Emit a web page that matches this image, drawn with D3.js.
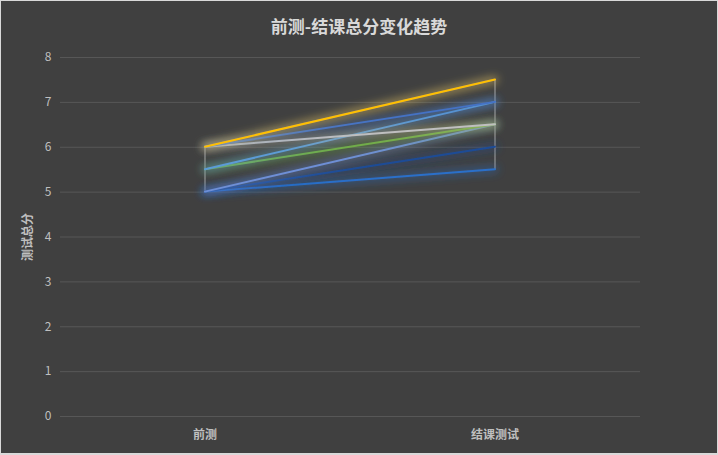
<!DOCTYPE html>
<html>
<head>
<meta charset="utf-8">
<script src="https://cdn.jsdelivr.net/npm/d3@7"></script>
<style>
  body { margin: 0; background: #d9d9d9; }
  svg { display: block; }
  text { font-family: "Noto Sans CJK SC", "Noto Sans", sans-serif; }
</style>
</head>
<body>
<svg id="chart" width="718" height="455"></svg>
<script>
const categories = ["前测", "结课测试"];
const pretest = [6, 6, 6, 5.5, 5.5, 5, 5, 5];
const finaltest = [7.5, 7, 6.5, 7, 6.5, 6.5, 6, 5.5];
const lineColors = ["#FFC000", "#4472C4", "#BFBFBF", "#5B9BD5", "#70AD47", "#6E8FD6", "#1F4C96", "#2B6FC9"];
const glowColors = ["#FFD966", "#4472C4", "#C9B98C", "#5B9BD5", "#70AD47", "#6E8FD6", "#1F4C96", "#2B6FC9"];
const yTicks = [0, 1, 2, 3, 4, 5, 6, 7, 8];

window.onload = () => {
    let svg = d3.select("#chart");

    // frame
    svg.append("rect")
    .attr("x", 1).attr("y", 1)
    .attr("width", 716).attr("height", 452)
    .attr("fill", "#404040");

    let x = d3.scaleBand().domain(categories).range([60, 640]);
    let y = d3.scaleLinear().domain([0, 8]).range([416, 57]);

    let defs = svg.append("defs");
    glowColors.forEach((c, i) => {
        let f = defs.append("filter")
        .attr("id", "glow" + i)
        .attr("x", "-20%").attr("y", "-80%")
        .attr("width", "140%").attr("height", "260%");
        f.append("feMorphology").attr("in", "SourceAlpha").attr("operator", "dilate").attr("radius", 1.5).attr("result", "d");
        f.append("feGaussianBlur").attr("in", "d").attr("stdDeviation", 4).attr("result", "b");
        f.append("feFlood").attr("flood-color", c).attr("flood-opacity", 0.5);
        f.append("feComposite").attr("in2", "b").attr("operator", "in").attr("result", "g");
        let m = f.append("feMerge");
        m.append("feMergeNode").attr("in", "g");
        m.append("feMergeNode").attr("in", "SourceGraphic");
    });

    // gridlines
    svg.append("g")
    .attr("transform", "translate(60,0)")
    .call(d3.axisLeft(y).tickValues(yTicks).tickSize(-580).tickFormat(d => d))
    .call(g => g.select(".domain").remove())
    .call(g => g.selectAll(".tick line").attr("stroke", "#575757").attr("stroke-width", 1))
    .call(g => g.selectAll(".tick text")
        .attr("x", -12)
        .attr("fill", "#bfbfbf")
        .attr("font-size", 12)
        .style("text-anchor", "middle"));

    // category labels
    svg.append("g")
    .attr("transform", "translate(0,416)")
    .call(d3.axisBottom(x).tickSize(0).tickPadding(14))
    .call(g => g.select(".domain").remove())
    .call(g => g.selectAll(".tick text")
        .attr("fill", "#bfbfbf")
        .attr("font-size", 12)
        .attr("font-weight", "bold"));

    let cx = d => x(d) + x.bandwidth() / 2;

    // high-low lines
    let hiLo = [
        [categories[0], d3.min(pretest), d3.max(pretest)],
        [categories[1], d3.min(finaltest), d3.max(finaltest)]
    ];
    svg.selectAll(".hilo")
    .data(hiLo)
    .enter()
    .append("line")
    .attr("x1", d => cx(d[0])).attr("x2", d => cx(d[0]))
    .attr("y1", d => y(d[1])).attr("y2", d => y(d[2]))
    .attr("stroke", "#a6a6a6")
    .attr("stroke-width", 1);

    let series = pretest.map((v, i) => ({ i: i, values: [v, finaltest[i]] }));
    let line = d3.line().x((d, j) => cx(categories[j])).y(d => y(d));

    // draw last series first so the first sits on top like Excel
    svg.selectAll(".series")
    .data(series.slice().reverse())
    .enter()
    .append("path")
    .attr("d", d => line(d.values))
    .attr("fill", "none")
    .attr("stroke", d => lineColors[d.i])
    .attr("stroke-width", 2)
    .attr("stroke-linecap", "round")
    .attr("filter", d => `url(#glow${d.i})`);

    // title
    svg.append("text")
    .attr("x", 359).attr("y", 33)
    .attr("text-anchor", "middle")
    .attr("fill", "#d9d9d9")
    .attr("font-size", 17)
    .attr("font-weight", "bold")
    .text("前测-结课总分变化趋势");

    // y axis title
    svg.append("text")
    .attr("transform", "translate(32,237) rotate(-90)")
    .attr("text-anchor", "middle")
    .attr("fill", "#bfbfbf")
    .attr("font-size", 12)
    .attr("font-weight", "bold")
    .text("测试总分");
}
</script>
</body>
</html>
